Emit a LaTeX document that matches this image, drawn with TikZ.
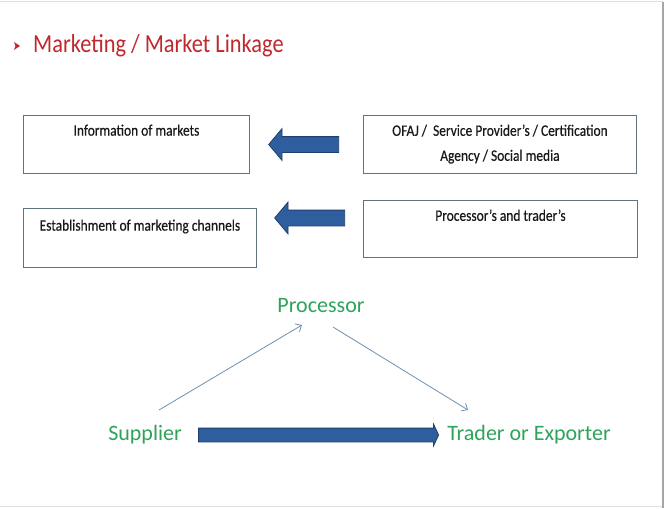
\documentclass[tikz,border=0pt]{standalone}
\usepackage{fontspec}
\setmainfont{Carlito}
\newfontfamily\condfont[FakeStretch=0.86]{Carlito}
\newfontfamily\boxfont[FakeStretch=0.84,FakeBold=0.4]{Carlito}
\usetikzlibrary{shapes.arrows,arrows.meta}
\definecolor{titlered}{HTML}{C0282D}
\definecolor{boxline}{HTML}{5F7480}
\definecolor{arrowfill}{HTML}{2F5E9E}
\definecolor{arrowline}{HTML}{1F3F6E}
\definecolor{nodegreen}{HTML}{2EA35A}
\definecolor{thinarrow}{HTML}{7090B0}
\tikzset{
  infobox/.style={draw=boxline, line width=0.9pt, anchor=north west, inner sep=0pt},
  boxtext/.style={font=\boxfont\fontsize{16}{25}\selectfont, text=black!90, align=center, anchor=north},
  blockarrow/.style={single arrow, draw=arrowline, fill=arrowfill, line width=0.8pt, inner sep=0pt},
  flowtext/.style={font=\fontsize{22}{26}\selectfont, text=nodegreen},
  thin/.style={draw=thinarrow, line width=0.8pt, -{Straight Barb[length=5pt,width=9pt]}}
}
\begin{document}
\begin{tikzpicture}[x=1pt,y=-1pt]
\useasboundingbox (0,0) rectangle (668,508);
\fill[white] (0,0) rectangle (668,508);
\draw[black!12, line width=1pt] (0,2) -- (663,2);
\draw[black!12, line width=1pt] (0,506) -- (663,506);
\draw[black!35, line width=1.5pt] (663,2) -- (663,508);
% title bullet
\fill[titlered] (14,42) -- (20,46) -- (14,50) -- (15.5,46) -- cycle;
\node[text=titlered, font=\condfont\fontsize{26}{30}\selectfont, anchor=west, inner sep=0pt] (title) at (33,46) {Marketing / Market Linkage};
% boxes
\node[infobox, minimum width=226, minimum height=58] (b1) at (23,115) {};
\node[infobox, minimum width=233, minimum height=59] (b2) at (23,208) {};
\node[infobox, minimum width=273, minimum height=58] (b3) at (363,115) {};
\node[infobox, minimum width=274, minimum height=57] (b4) at (363,200) {};
\node[boxtext] (t1) at ([yshift=-6]b1.north) {Information of markets};
\node[boxtext] (t2) at ([yshift=-8]b2.north) {Establishment of marketing channels};
\node[boxtext] (t3) at ([yshift=-6]b3.north) {OFAJ /\ \ Service Provider’s / Certification\\Agency / Social media};
\node[boxtext] (t4) at ([yshift=-6]b4.north) {Processor’s and trader’s};
% block arrows
\node[blockarrow, shape border rotate=180, minimum height=70, minimum width=31, single arrow head extend=8, single arrow tip angle=100, text height=15] (a1) at (307,144.5) {};
\node[blockarrow, shape border rotate=180, minimum height=70, minimum width=31, single arrow head extend=8, single arrow tip angle=100, text height=15] (a2) at (313,218) {};
% flow
\node[flowtext] (proc) at (321,306) {Processor};
\node[flowtext] (sup) at (145,435) {Supplier};
\node[flowtext] (trad) at (529,435) {Trader or Exporter};
\coordinate (s1) at (159,410);
\coordinate (p1) at (302,325);
\coordinate (p2) at (333,327);
\coordinate (e1) at (468,410);
\draw[thin] (s1) -- (p1);
\draw[thin] (p2) -- (e1);
\node[blockarrow, minimum height=240, minimum width=21, single arrow head extend=4, single arrow tip angle=130, text height=13] (big) at (317,435) {};
\end{tikzpicture}
\end{document}
